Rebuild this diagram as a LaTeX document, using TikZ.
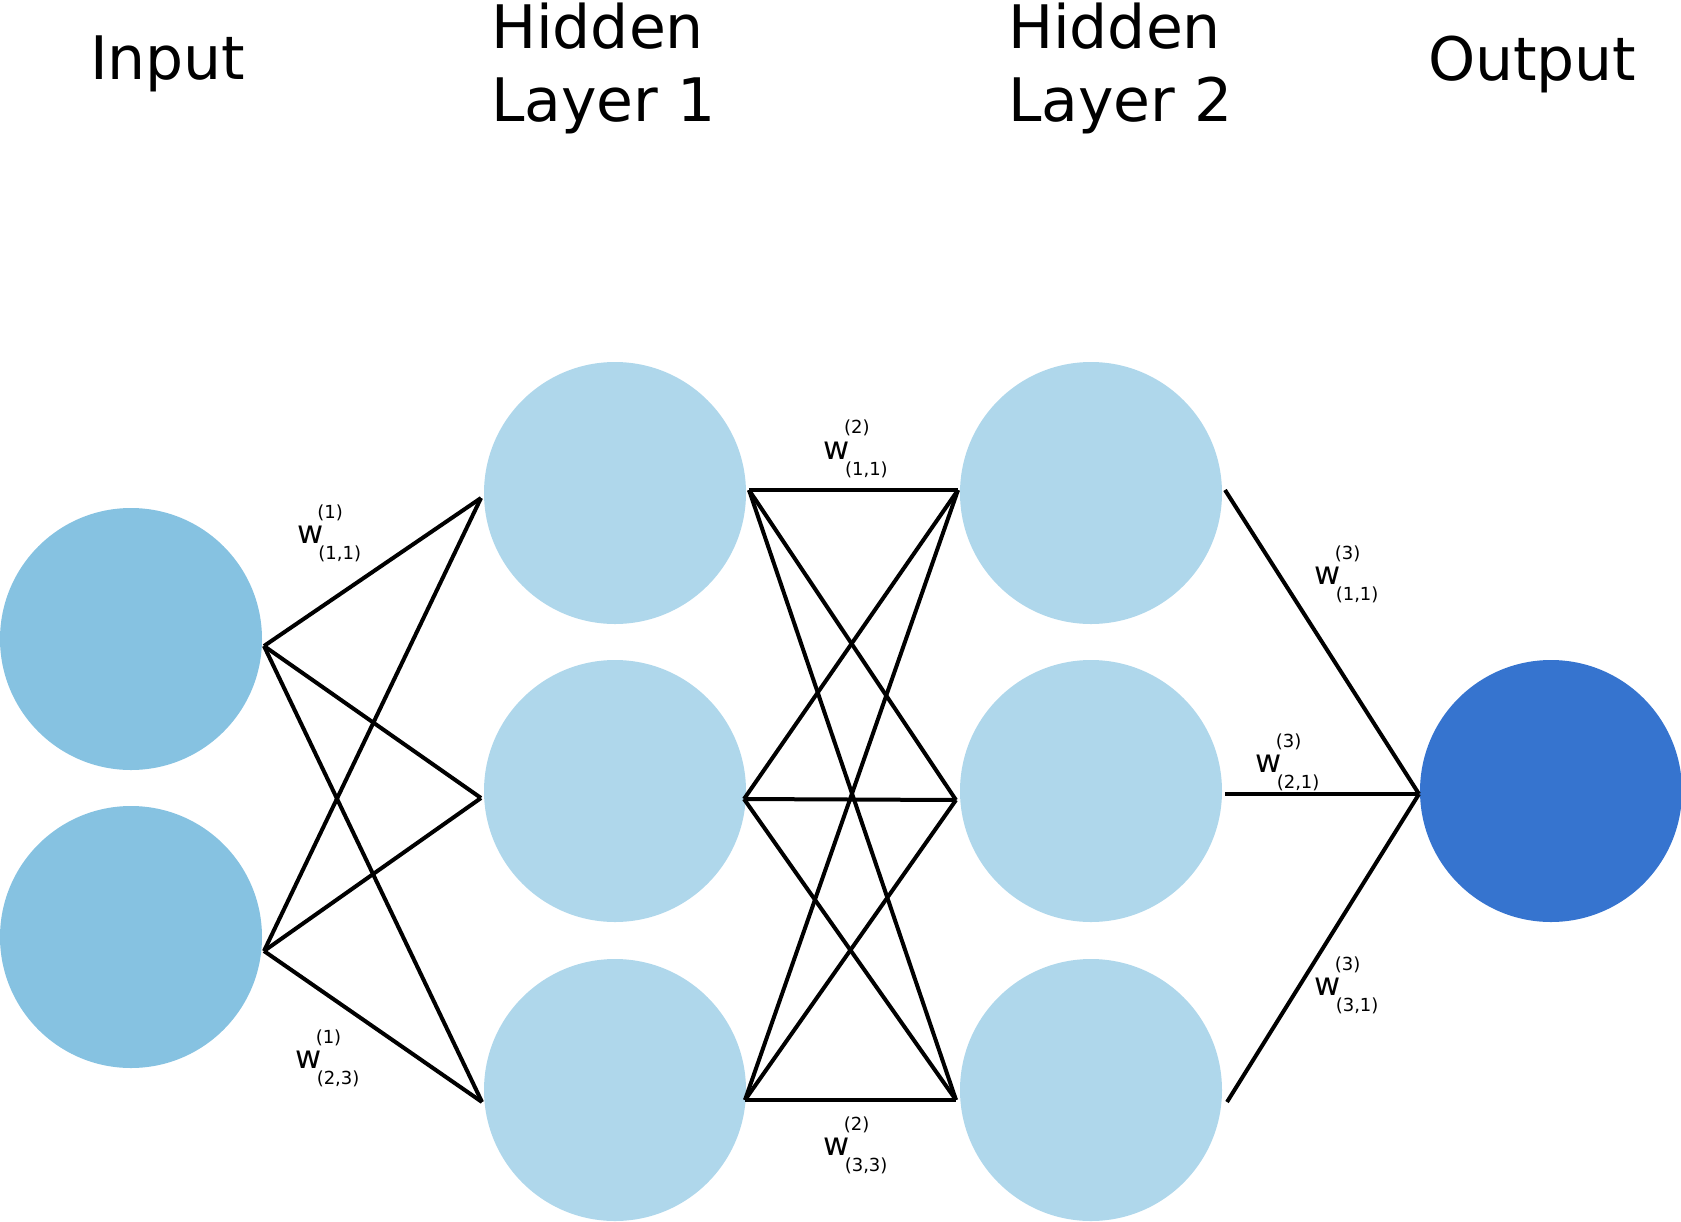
\documentclass[tikz,border=0pt]{standalone}
\usepackage{fontspec}
\setmainfont{DejaVu Sans}
\definecolor{incol}{HTML}{86C2E1}
\definecolor{hidcol}{HTML}{AFD7EB}
\definecolor{outcol}{HTML}{3674CF}
\newcommand{\wlab}[2]{{\fontsize{32}{32}\selectfont w}\kern-6pt{\fontsize{18}{18}\selectfont\rlap{\raisebox{25.8pt}{#1}}\kern1pt\raisebox{-15.7pt}{#2}}}

\begin{document}
\begin{tikzpicture}[x=1pt, y=-1pt, line width=4pt,
    neuron/.style={circle, minimum size=262pt, inner sep=0pt},
    title/.style={anchor=base west, inner sep=0pt, align=left, font=\fontsize{60}{73.5}\selectfont},
    weight/.style={anchor=base west, inner sep=0pt}]
    \useasboundingbox (0, 0) rectangle (1681, 1221);

    \node[title] (tin) at (88, 79) {Input};
    \node[title] (th1) at (489, 121.5) {Hidden\\Layer 1};
    \node[title] (th2) at (1006, 121.5) {Hidden\\Layer 2};
    \node[title] (tout) at (1426, 80) {Output};

    \node[neuron, fill=incol] (in1) at (131, 639) {};
    \node[neuron, fill=incol] (in2) at (131, 937) {};

    \node[neuron, fill=hidcol] (h1a) at (615, 493) {};
    \node[neuron, fill=hidcol] (h1b) at (615, 791) {};
    \node[neuron, fill=hidcol] (h1c) at (615, 1090) {};

    \node[neuron, fill=hidcol] (h2a) at (1091, 493) {};
    \node[neuron, fill=hidcol] (h2b) at (1091, 791) {};
    \node[neuron, fill=hidcol] (h2c) at (1091, 1090) {};

    \node[neuron, fill=outcol] (out) at (1551, 791) {};

    % line ends
    \coordinate (in1r) at ([yshift=-7pt]in1.east);
    \coordinate (in2r) at ([yshift=-14pt]in2.east);
    \coordinate (h1al) at ([xshift=-1pt, yshift=-5pt]h1a.west);
    \coordinate (h1bl) at ([xshift=-1pt, yshift=-7pt]h1b.west);
    \coordinate (h1cl) at ([yshift=-12pt]h1c.west);
    \coordinate (h1ar) at ([xshift=1pt, yshift=3pt]h1a.east);
    \coordinate (h1br) at ([xshift=-4pt, yshift=-8pt]h1b.east);
    \coordinate (h1cr) at ([xshift=-3pt, yshift=-10pt]h1c.east);
    \coordinate (h2al) at ([yshift=3pt]h2a.west);
    \coordinate (h2bl) at ([xshift=-2pt, yshift=-9pt]h2b.west);
    \coordinate (h2cl) at ([xshift=-2pt, yshift=-10pt]h2c.west);
    \coordinate (h2ar) at ([xshift=1pt, yshift=3pt]h2a.east);
    \coordinate (h2br) at ([xshift=1pt, yshift=-3pt]h2b.east);
    \coordinate (h2cr) at ([xshift=3pt, yshift=-12pt]h2c.east);
    \coordinate (outl) at ([xshift=1pt, yshift=-3pt]out.west);

    % input to hidden 1
    \foreach \a in {in1r, in2r}
        \foreach \b in {h1al, h1bl, h1cl}
            \draw (\a) -- (\b);
    % hidden 1 to hidden 2
    \foreach \a in {h1ar, h1br, h1cr}
        \foreach \b in {h2al, h2bl, h2cl}
            \draw (\a) -- (\b);
    % hidden 2 to output
    \foreach \a in {h2ar, h2br, h2cr}
        \draw (\a) -- (outl);

    \node[weight] (w111) at (295.3, 543.8) {\wlab{(1)}{(1,1)}};
    \node[weight] (w123) at (293.6, 1068.8) {\wlab{(1)}{(2,3)}};
    \node[weight] (w211) at (821.9, 459.3) {\wlab{(2)}{(1,1)}};
    \node[weight] (w233) at (821.6, 1155.8) {\wlab{(2)}{(3,3)}};
    \node[weight] (w311) at (1312.6, 584.8) {\wlab{(3)}{(1,1)}};
    \node[weight] (w321) at (1253.6, 772.8) {\wlab{(3)}{(2,1)}};
    \node[weight] (w331) at (1312.6, 995.8) {\wlab{(3)}{(3,1)}};
\end{tikzpicture}
\end{document}
